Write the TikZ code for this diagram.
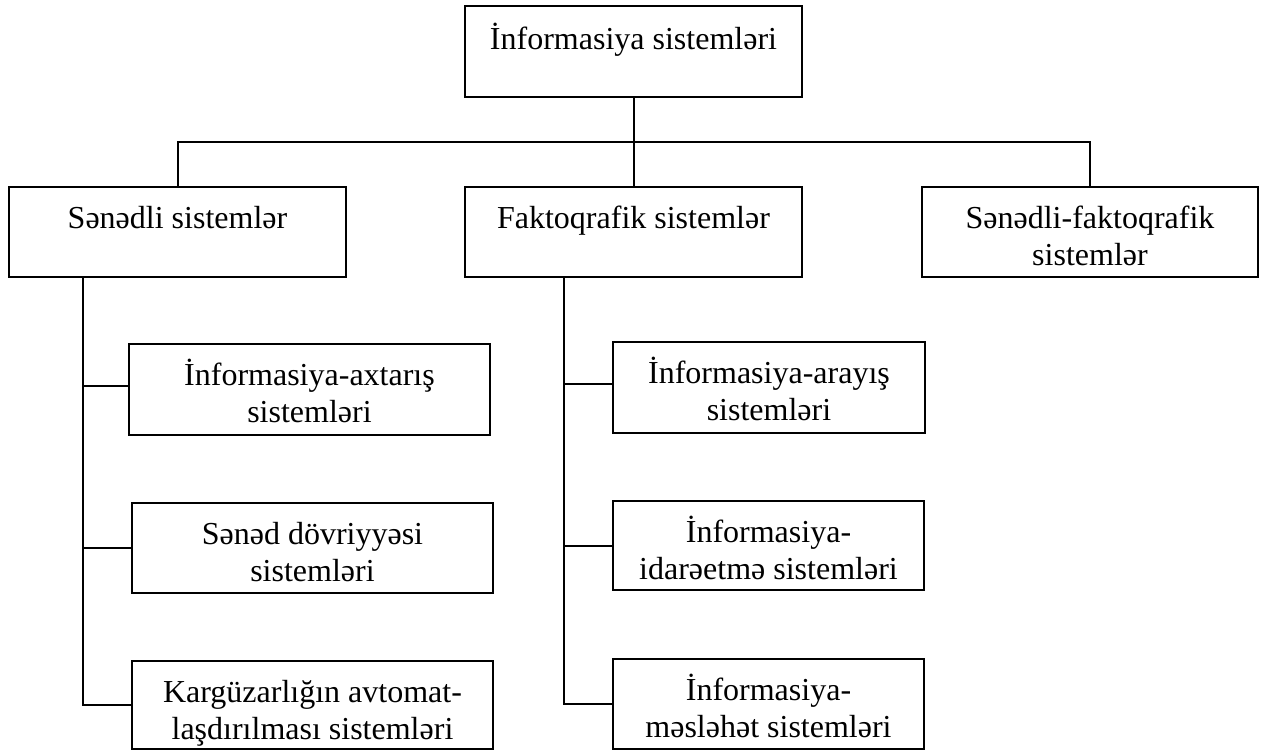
\documentclass[tikz,border=0pt]{standalone}
\usepackage{fontspec}
\setmainfont{Liberation Serif}
\usetikzlibrary{calc}

% fixed-size cell: width, height, first-baseline offset, text
\newcommand\cellbox[4]{\parbox[t][#2pt][t]{#1pt}{\centering\rule{0pt}{#3pt}#4}}

\tikzset{
  cell/.style={draw, line width=2pt, inner sep=0pt, anchor=north west,
               font=\fontsize{32}{37}\selectfont},
  link/.style={line width=2pt}
}

\begin{document}
\begin{tikzpicture}[x=1pt, y=-1pt]
\useasboundingbox (0,0) rectangle (1265,749);

% top level
\node[cell] (root) at (464,5)   {\cellbox{337}{91}{44}{İnformasiya sistemləri}};

% second level
\node[cell] (sen)  at (8,186)   {\cellbox{337}{90}{41}{Sənədli sistemlər}};
\node[cell] (fak)  at (464,186) {\cellbox{337}{90}{41}{Faktoqrafik sistemlər}};
\node[cell] (sf)   at (921,186) {\cellbox{336}{90}{41}{Sənədli-faktoqrafik\\sistemlər}};

% documentary subsystems
\node[cell] (a1) at (128,343) {\cellbox{361}{91}{41}{İnformasiya-axtarış\\sistemləri}};
\node[cell] (a2) at (131,502) {\cellbox{361}{90}{41}{Sənəd dövriyyəsi\\sistemləri}};
\node[cell] (a3) at (131,660) {\cellbox{361}{88}{41}{Kargüzarlığın avtomat-\\laşdırılması sistemləri}};

% factographic subsystems
\node[cell] (b1) at (612,341) {\cellbox{312}{91}{41}{İnformasiya-arayış\\sistemləri}};
\node[cell] (b2) at (612,500) {\cellbox{311}{89}{41}{İnformasiya-\\idarəetmə sistemləri}};
\node[cell] (b3) at (612,658) {\cellbox{311}{90}{41}{İnformasiya-\\məsləhət sistemləri}};

% bus under the root
\coordinate (bus) at (0,142);
\draw[link] (root.south) -- (root.south |- bus);
\draw[link] (sen.north) -- (sen.north |- bus) -- (sf.north |- bus) -- (sf.north);
\draw[link] (fak.north |- bus) -- (fak.north);

% left spine
\coordinate (ls) at (83,276);
\draw[link] (ls) -- (ls |- a3.west) -- (a3.west);
\draw[link] ($(ls |- a1.west)+(0,-4)$) -- ($(a1.west)+(0,-4)$);
\draw[link] (ls |- a2.west) -- (a2.west);

% middle spine
\coordinate (ms) at (563.5,276);
\draw[link] (ms) -- (ms |- b3.west) -- (b3.west);
\draw[link] ($(ms |- b1.west)+(0,-4)$) -- ($(b1.west)+(0,-4)$);
\draw[link] (ms |- b2.west) -- (b2.west);
\end{tikzpicture}
\end{document}
